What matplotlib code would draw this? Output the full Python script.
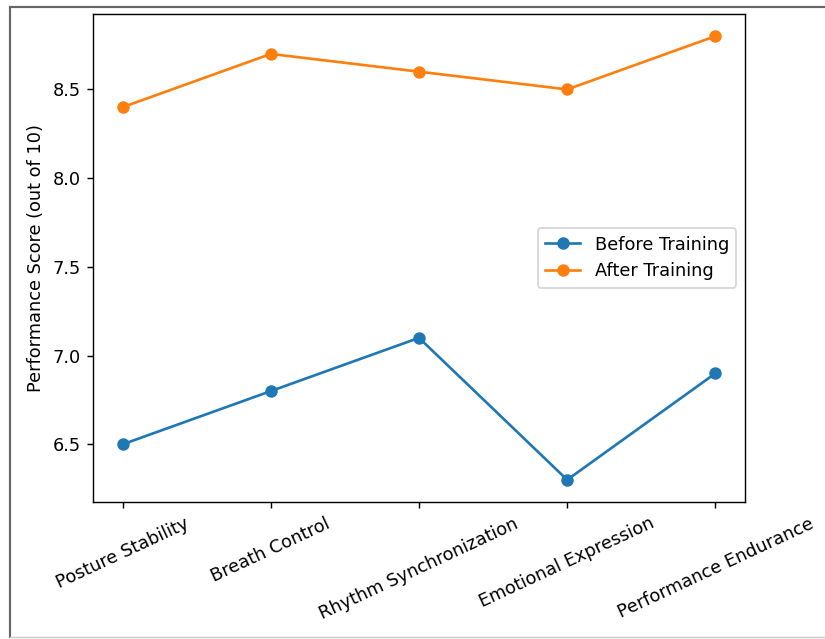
import matplotlib
matplotlib.use('Agg')
import matplotlib.pyplot as plt
from matplotlib.lines import Line2D

# scores
categories = ['Posture Stability', 'Breath Control', 'Rhythm Synchronization',
              'Emotional Expression', 'Performance Endurance']
before_training = [6.5, 6.8, 7.1, 6.3, 6.9]
after_training = [8.4, 8.7, 8.6, 8.5, 8.8]

DPI = 128
W, H = 825, 639


def main() -> None:
    fig = plt.figure(figsize=(W / DPI, H / DPI), dpi=DPI)
    ax = fig.add_axes([93 / W, 1 - 502 / H, (745 - 93) / W, (502 - 14) / H])

    ax.plot(categories, before_training, marker='o', label='Before Training')
    ax.plot(categories, after_training, marker='o', label='After Training')
    ax.set_ylabel('Performance Score (out of 10)')
    ax.set_xticks(range(len(categories)))
    ax.set_xticklabels(categories, rotation=25)
    ax.legend(loc='center right')

    # screenshot frame around the figure
    x0 = 10 / W
    y_top = 1 - 7 / H
    y_bot = 1 - 637 / H
    fig.add_artist(Line2D([x0, x0], [y_bot, y_top], color='#666666', lw=1.2))
    fig.add_artist(Line2D([x0, 1.0], [y_top, y_top], color='#666666', lw=1.2))
    fig.add_artist(Line2D([x0, 1.0], [y_bot, y_bot], color='#cccccc', lw=0.8))

    fig.savefig('out.png', dpi=DPI)


if __name__ == '__main__':
    main()
